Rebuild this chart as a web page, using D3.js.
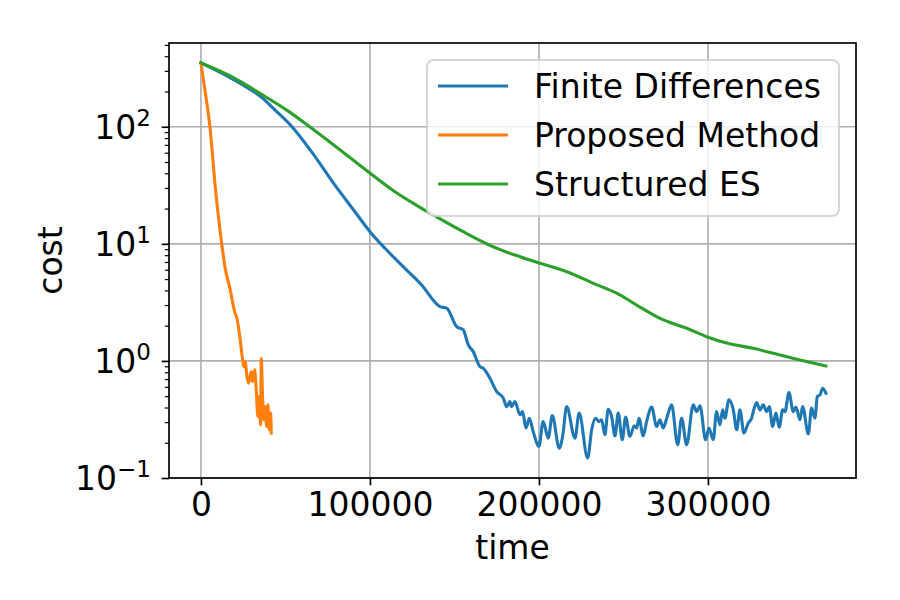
<!DOCTYPE html>
<html>
<head>
<meta charset="utf-8">
<script src="https://cdn.jsdelivr.net/npm/d3@7"></script>
<style>
  body { margin: 0; background: #fff; }
  svg text { font-family: 'DejaVu Sans', sans-serif; fill: #000; }
</style>
</head>
<body>
<div id="chart"></div>
<script>
// Finite Differences (blue)
const fdTime = [0, 16150, 26040, 35920, 44000, 53600, 65500, 79290, 91120, 100000, 108900, 120700, 130600, 141400, 145400,
  151300, 155200, 158200, 161100, 165100, 167000, 171000, 175000, 178900, 180900, 182800, 183800, 185800,
  188800, 190300, 192300, 194300, 196600, 200000, 202500, 205500, 207900, 212000, 214000, 216400, 221300,
  223800, 228800, 231200, 233500, 235500, 237100, 239000, 241000, 243000, 245000, 246900, 249300, 251300,
  253800, 256400, 257800, 259200, 261700, 263700, 266700, 269600, 271600, 273500, 275600, 278500, 282100,
  284400, 287400, 291300, 293300, 295300, 298600, 300600, 303100, 305100, 307100, 308700, 310000, 312400,
  315000, 317000, 318900, 321300, 323800, 325800, 326800, 328800, 330800, 332700, 334700, 336300, 338300,
  340200, 342200, 344200, 345600, 347900, 350500, 352100, 354400, 356000, 359400, 361300, 363300, 364700,
  366300, 367900, 369800]
const fdCost = [351, 268, 222, 178, 138, 101, 61, 31.7, 18.8, 12.7, 9.16, 6.18, 4.45, 2.91, 2.82,
  1.96, 1.84, 1.37, 1.20, 0.894, 0.867, 0.711, 0.547, 0.481, 0.407, 0.450, 0.407, 0.450,
  0.346, 0.369, 0.267, 0.324, 0.249, 0.186, 0.303, 0.219, 0.341, 0.180, 0.226, 0.407, 0.219,
  0.358, 0.148, 0.258, 0.324, 0.303, 0.314, 0.234, 0.387, 0.335, 0.229, 0.358, 0.212, 0.331,
  0.226, 0.279, 0.267, 0.324, 0.229, 0.303, 0.403, 0.275, 0.314, 0.267, 0.324, 0.421, 0.192,
  0.324, 0.192, 0.421, 0.369, 0.413, 0.212, 0.267, 0.212, 0.369, 0.284, 0.382, 0.324, 0.465,
  0.382, 0.258, 0.382, 0.242, 0.294, 0.324, 0.369, 0.441, 0.382, 0.421, 0.369, 0.407, 0.275,
  0.358, 0.272, 0.382, 0.369, 0.537, 0.369, 0.403, 0.314, 0.407, 0.238, 0.395, 0.324, 0.496,
  0.513, 0.585, 0.530]

// Proposed Method (orange)
const pmTime = [0, 2370, 5330, 8280, 12250, 14200, 17340, 19940, 21300, 23250, 24670, 25440, 26210,
  27220, 28220, 29760, 30590, 31770, 32720, 33730, 34500, 35320, 35680, 36510, 37280, 38050, 38880,
  39640, 40410, 41240, 41600]
const pmCost = [351, 205, 99.8, 32.8, 10.1, 6.38, 4.04, 2.63, 2.31, 1.51, 1.02, 0.894, 0.986,
  0.735, 0.645, 0.811, 0.666, 0.838, 0.566, 0.335, 0.496, 0.284, 1.05, 0.465, 0.314, 0.407, 0.275,
  0.421, 0.258, 0.358, 0.242]

// Structured ES (green)
const esTime = [0, 16150, 35920, 51650, 65500, 81230, 98980, 114800, 130600, 139500, 155200, 175000,
  188800, 200600, 216400, 232200, 247900, 257800, 271600, 287400, 299200, 311100, 326800, 338600,
  354400, 369800]
const esCost = [351, 277, 189, 136, 97, 65.3, 41.2, 27.8, 20.1, 17.0, 12.7, 9.16,
  7.76, 6.82, 5.78, 4.60, 3.66, 3.00, 2.31, 1.90, 1.61, 1.42, 1.28, 1.16,
  1.02, 0.906]

const xTicks = [0, 100000, 200000, 300000]
const yExponents = [-1, 0, 1, 2]
const seriesNames = ['Finite Differences', 'Proposed Method', 'Structured ES']
const seriesColors = ['#1f77b4', '#ff7f0e', '#2ca02c']

const width = 900
const height = 600
const plot = { left: 169, right: 856, top: 43, bottom: 478 }
const lw = 1.67

const svg = d3.select('#chart').append('svg')
  .attr('width', width)
  .attr('height', height)

const xScale = d3.scaleLinear().domain([-18900, 387600]).range([plot.left, plot.right])
const yScale = d3.scaleLog().domain([0.1, 519]).range([plot.bottom, plot.top])

const majorY = yExponents.map(e => Math.pow(10, e))
const minorY = []
yExponents.forEach(e => {
  for (let m = 2; m < 10; m++) {
    const v = m * Math.pow(10, e)
    if (v <= yScale.domain()[1]) minorY.push(v)
  }
})

// grid
const grid = svg.append('g').attr('stroke', '#b0b0b0').attr('stroke-width', lw)
grid.selectAll('.gx').data(xTicks).join('line')
  .attr('x1', d => xScale(d)).attr('x2', d => xScale(d))
  .attr('y1', plot.top).attr('y2', plot.bottom)
grid.selectAll('.gy').data(majorY).join('line')
  .attr('x1', plot.left).attr('x2', plot.right)
  .attr('y1', d => yScale(d)).attr('y2', d => yScale(d))

svg.append('clipPath').attr('id', 'clip')
  .append('rect')
  .attr('x', plot.left).attr('y', plot.top)
  .attr('width', plot.right - plot.left).attr('height', plot.bottom - plot.top)

const series = [
  { t: fdTime, c: fdCost },
  { t: pmTime, c: pmCost },
  { t: esTime, c: esCost }
]

const line = d3.line()
  .curve(d3.curveMonotoneX)
  .x(d => xScale(d[0]))
  .y(d => yScale(d[1]))

svg.append('g').attr('clip-path', 'url(#clip)')
  .selectAll('path')
  .data(series)
  .join('path')
  .attr('d', s => line(s.t.map((t, i) => [t, s.c[i]])))
  .attr('fill', 'none')
  .attr('stroke', (s, i) => seriesColors[i])
  .attr('stroke-width', 3.1)
  .attr('stroke-linejoin', 'round')
  .attr('stroke-linecap', 'square')

// spines
svg.append('rect')
  .attr('x', plot.left).attr('y', plot.top)
  .attr('width', plot.right - plot.left).attr('height', plot.bottom - plot.top)
  .attr('fill', 'none').attr('stroke', '#000').attr('stroke-width', lw)

// x axis
const xAxis = svg.append('g')
  .attr('transform', `translate(0,${plot.bottom})`)
  .call(d3.axisBottom(xScale).tickValues(xTicks).tickFormat(d3.format('d'))
    .tickSize(7.3).tickPadding(7.3).tickSizeOuter(0))
xAxis.select('.domain').remove()
xAxis.selectAll('line').attr('stroke-width', lw)
xAxis.selectAll('text').attr('font-size', 33).attr('font-family', null)

// y axis, major + minor ticks
const yAxis = svg.append('g')
  .attr('transform', `translate(${plot.left},0)`)
  .call(d3.axisLeft(yScale).tickValues(majorY).tickFormat('').tickSize(7.3).tickSizeOuter(0))
yAxis.select('.domain').remove()
yAxis.selectAll('line').attr('stroke-width', lw)

const yMinor = svg.append('g')
  .attr('transform', `translate(${plot.left},0)`)
  .call(d3.axisLeft(yScale).tickValues(minorY).tickFormat('').tickSize(4.2).tickSizeOuter(0))
yMinor.select('.domain').remove()
yMinor.selectAll('line').attr('stroke-width', 1.2)

const yLabels = svg.append('g').selectAll('text')
  .data(yExponents)
  .join('text')
  .attr('x', 151)
  .attr('y', d => yScale(Math.pow(10, d)) + 12)
  .attr('text-anchor', 'end')
  .attr('font-size', 33)
yLabels.append('tspan').text('10')
yLabels.append('tspan')
  .attr('dy', -13)
  .attr('font-size', 23)
  .text(d => d < 0 ? '\u2212' + Math.abs(d) : String(d))

// axis titles
svg.append('text')
  .attr('x', (plot.left + plot.right) / 2)
  .attr('y', 559)
  .attr('text-anchor', 'middle')
  .attr('font-size', 33)
  .text('time')

svg.append('text')
  .attr('transform', `translate(62,${(plot.top + plot.bottom) / 2}) rotate(-90)`)
  .attr('text-anchor', 'middle')
  .attr('font-size', 33)
  .text('cost')

// legend
const legend = svg.append('g')
legend.append('rect')
  .attr('x', 427).attr('y', 60)
  .attr('width', 412).attr('height', 156)
  .attr('rx', 6.7)
  .attr('fill', '#fff').attr('fill-opacity', 0.8)
  .attr('stroke', '#ccc').attr('stroke-opacity', 0.8)
  .attr('stroke-width', 2)

const legendY = d3.scalePoint().domain(seriesNames).range([86, 184])
const item = legend.selectAll('.item')
  .data(seriesNames)
  .join('g')
  .attr('transform', d => `translate(0,${legendY(d)})`)
item.append('line')
  .attr('x1', 438).attr('x2', 508)
  .attr('stroke', (d, i) => seriesColors[i])
  .attr('stroke-width', 3.1)
item.append('text')
  .attr('x', 534).attr('y', 12)
  .attr('font-size', 33)
  .text(d => d)
</script>
</body>
</html>
